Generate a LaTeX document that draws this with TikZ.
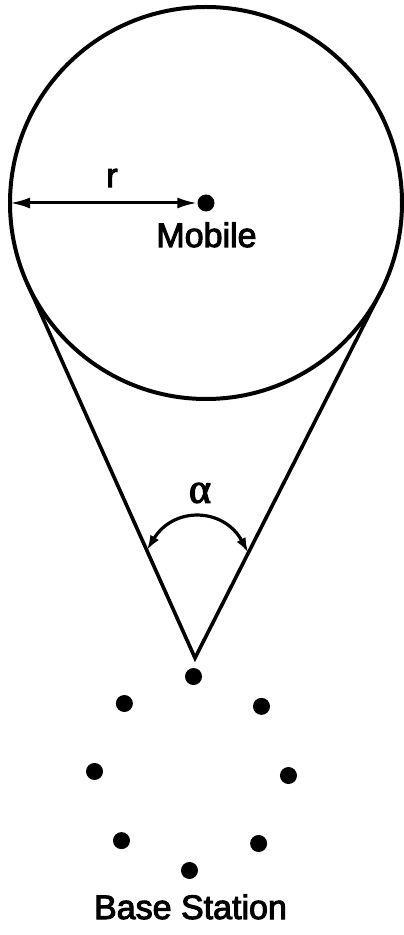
\documentclass[tikz,border=0pt]{standalone}
\usepackage{fontspec}
\usetikzlibrary{calc,arrows.meta}
\newfontfamily\figfont[FakeBold=3]{Liberation Sans}
\newfontfamily\greekfont[FakeBold=3]{Liberation Serif}

\begin{document}
\begin{tikzpicture}[
  x=1pt,
  y=1pt,
  every node/.style={font=\figfont\fontsize{34}{40}\selectfont},
  dot/.style={circle, fill=black, inner sep=0pt, minimum size=17pt},
  radiusarrow/.style={{Latex[length=20pt,width=11pt]}-{Latex[length=20pt,width=11pt]}, line width=3pt},
  anglearrow/.style={{Latex[length=15pt,width=10pt]}-{Latex[length=15pt,width=10pt]}, line width=3.2pt}
]
  \useasboundingbox (0,0) rectangle (404,935);

  % Mobile and its circle of scatterers
  \node[circle, draw, line width=4pt, inner sep=0pt, outer sep=0pt,
        minimum size=392pt] (cell) at (206,732) {};
  \node[dot] (mobile) at (206,732) {};
  \node[anchor=base] (mobilelabel) at (206.5,688) {Mobile};
  \draw[radiusarrow] (cell.west) -- (mobile.west);
  \node (rlabel) at (112,757) {r};

  % Tangent lines from the base station
  \coordinate (apex) at (195,277);
  \coordinate (tleft) at (tangent cs:node=cell,point={(apex)},solution=2);
  \coordinate (tright) at (tangent cs:node=cell,point={(apex)},solution=1);
  \draw[line width=3.6pt, line join=miter] (tleft) -- (apex) -- (tright);

  % Angle alpha
  \coordinate (aleft) at ($(apex)!118pt!(tleft)$);
  \coordinate (aright) at ($(apex)!118pt!(tright)$);
  \draw[anglearrow] (aleft) to[bend left=60, looseness=1.3] (aright);
  \node[font=\greekfont\fontsize{42}{46}\selectfont] (alphalabel) at (200,442) {α};

  % Base station array
  \coordinate (bscentre) at (191.5,161.5);
  \foreach \k in {0,...,7}
    \node[dot] (bs\k) at ($(bscentre)+(88.8-45*\k:97)$) {};
  \node[anchor=base] (bslabel) at (190.5,16) {Base Station};
\end{tikzpicture}
\end{document}
